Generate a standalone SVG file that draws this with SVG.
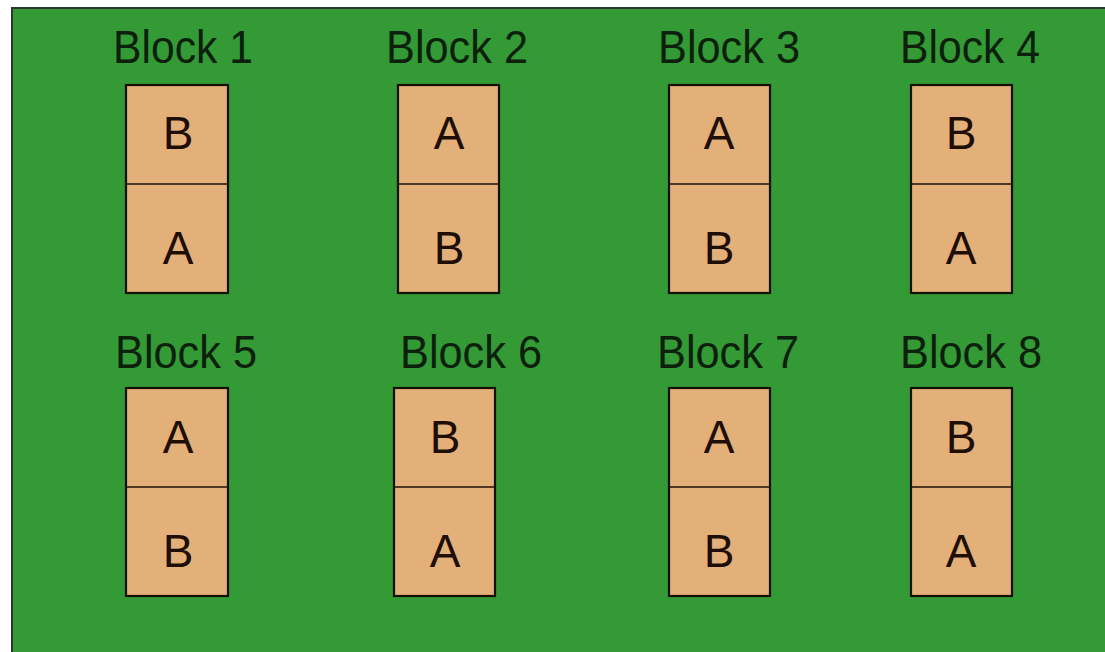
<svg xmlns="http://www.w3.org/2000/svg" width="1105" height="652" viewBox="0 0 1105 652">
<style>
.bg{fill:#339a35;stroke:#2a3a2a;stroke-width:2}
.box{fill:#e2b078;stroke:#141008;stroke-width:2.2}
.div{stroke:#201008;stroke-width:1.6}
.lbl{font-family:"Liberation Sans",Arial,sans-serif;font-size:46px;fill:#0c200c;text-anchor:middle}
.let{font-family:"Liberation Sans",Arial,sans-serif;font-size:46px;fill:#1e0e06;text-anchor:middle}
</style>
<rect width="1105" height="652" fill="#ffffff"/>
<rect class="bg" x="12" y="8" width="1100" height="660"/>
<g id="block1">
<text class="lbl" x="183" y="63" textLength="140" lengthAdjust="spacingAndGlyphs">Block 1</text>
<rect class="box" x="126" y="85" width="102" height="208"/>
<line class="div" x1="126" y1="184" x2="228" y2="184"/>
<text class="let" x="178" y="149">B</text>
<text class="let" x="178" y="264">A</text>
</g>
<g id="block2">
<text class="lbl" x="457" y="63" textLength="142" lengthAdjust="spacingAndGlyphs">Block 2</text>
<rect class="box" x="398" y="85" width="101" height="208"/>
<line class="div" x1="398" y1="184" x2="499" y2="184"/>
<text class="let" x="449" y="149">A</text>
<text class="let" x="449" y="264">B</text>
</g>
<g id="block3">
<text class="lbl" x="729" y="63" textLength="142" lengthAdjust="spacingAndGlyphs">Block 3</text>
<rect class="box" x="669" y="85" width="101" height="208"/>
<line class="div" x1="669" y1="184" x2="770" y2="184"/>
<text class="let" x="719" y="149">A</text>
<text class="let" x="719" y="264">B</text>
</g>
<g id="block4">
<text class="lbl" x="970" y="63" textLength="140" lengthAdjust="spacingAndGlyphs">Block 4</text>
<rect class="box" x="911" y="85" width="101" height="208"/>
<line class="div" x1="911" y1="184" x2="1012" y2="184"/>
<text class="let" x="961" y="149">B</text>
<text class="let" x="961" y="264">A</text>
</g>
<g id="block5">
<text class="lbl" x="186" y="368" textLength="142" lengthAdjust="spacingAndGlyphs">Block 5</text>
<rect class="box" x="126" y="388" width="102" height="208"/>
<line class="div" x1="126" y1="487" x2="228" y2="487"/>
<text class="let" x="178" y="453">A</text>
<text class="let" x="178" y="567">B</text>
</g>
<g id="block6">
<text class="lbl" x="471" y="368" textLength="142" lengthAdjust="spacingAndGlyphs">Block 6</text>
<rect class="box" x="394" y="388" width="101" height="208"/>
<line class="div" x1="394" y1="487" x2="495" y2="487"/>
<text class="let" x="445" y="453">B</text>
<text class="let" x="445" y="567">A</text>
</g>
<g id="block7">
<text class="lbl" x="728" y="368" textLength="142" lengthAdjust="spacingAndGlyphs">Block 7</text>
<rect class="box" x="669" y="388" width="101" height="208"/>
<line class="div" x1="669" y1="487" x2="770" y2="487"/>
<text class="let" x="719" y="453">A</text>
<text class="let" x="719" y="567">B</text>
</g>
<g id="block8">
<text class="lbl" x="971" y="368" textLength="142" lengthAdjust="spacingAndGlyphs">Block 8</text>
<rect class="box" x="911" y="388" width="101" height="208"/>
<line class="div" x1="911" y1="487" x2="1012" y2="487"/>
<text class="let" x="961" y="453">B</text>
<text class="let" x="961" y="567">A</text>
</g>
<g id="connectors"/>
</svg>
